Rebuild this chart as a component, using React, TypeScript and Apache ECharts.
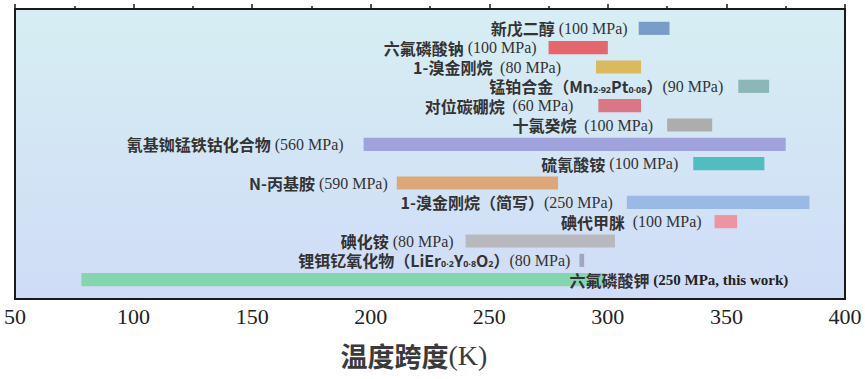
import React, { useEffect, useRef } from "react";
import * as echarts from "echarts";

// ---- data (top row first) ----
const materials = [
  "新戊二醇",
  "六氟磷酸钠",
  "1-溴金刚烷 ",
  "锰铂合金（Mn_{2·92}Pt_{0·08}）",
  "对位碳硼烷 ",
  "十氯癸烷 ",
  "氰基铷锰铁钴化合物",
  "硫氰酸铵",
  "N-丙基胺",
  "1-溴金刚烷（简写）",
  "碘代甲脒 ",
  "碘化铵",
  "锂铒钇氧化物（LiEr_{0·2}Y_{0·8}O_{2}）",
  "六氟磷酸钾",
];
const pressures = [
  "100 MPa", "100 MPa", "80 MPa", "90 MPa", "60 MPa", "100 MPa", "560 MPa",
  "100 MPa", "590 MPa", "250 MPa", "100 MPa", "80 MPa", "80 MPa", "250 MPa, this work",
];
const tStart = [313, 275, 295, 355, 296, 325, 197, 336, 211, 308, 345, 240, 288, 78];
const tEnd = [326, 300, 314, 368, 314, 344, 375, 366, 279, 385, 354.5, 303, 290, 299];
const xTicks = { min: 50, max: 400, interval: 50 };

// ---- styles ----
const barColors = [
  "#6e94c3", "#e9565d", "#d9b54f", "#82b2b2", "#dc6a78", "#a8a6a6", "#9a9ad9",
  "#44b8b9", "#dfa06a", "#93b5e2", "#ef8c97", "#b4b5b8", "#9ba0ba", "#7bd5aa",
];
const labelGaps = [11, 12, 35, 15, 25, 14, 20, 15, 9, 14, 13, 12, 9, 0];
const CN_FONT = "'Noto Sans CJK SC', 'Noto Sans', sans-serif";
const SUB_FONT = "'Noto Sans', 'DejaVu Sans', sans-serif";
const EN_FONT = "'Liberation Serif', 'DejaVu Serif', serif";

function buildLabel(i: number) {
  const name = materials[i];
  const cn = "{cn|" + name.replace(/_\{([^}]*)\}/g, "}{sub|$1}{cn|") + "}";
  const last = i === materials.length - 1;
  const enStyle = last ? "enb" : "en";
  const sep = name.endsWith("）") ? "" : `{${enStyle}| }`;
  return cn + sep + `{${enStyle}|(${pressures[i]})}`;
}

const LH = 16;
const rich = {
  cn: { fontFamily: CN_FONT, fontSize: 16, fontWeight: "bold", fill: "#333", lineHeight: LH },
  sub: { fontFamily: SUB_FONT, fontSize: 9, fontWeight: "bold", fill: "#333", lineHeight: LH, verticalAlign: "bottom" },
  en: { fontFamily: EN_FONT, fontSize: 16, fill: "#333", lineHeight: LH },
  enb: { fontFamily: EN_FONT, fontSize: 15, fontWeight: "bold", fill: "#222", lineHeight: LH },
};

export default function App() {
  const ref = useRef<HTMLDivElement>(null);
  useEffect(() => {
    document.body.style.margin = "0";
    const chart = echarts.init(ref.current!, undefined, { renderer: "svg" });
    const data = tStart.map((s, i) => [s, tEnd[i], i]);
    chart.setOption({
      animation: false,
      grid: {
        left: 15,
        right: 20,
        top: 9,
        bottom: 80,
        show: true,
        borderColor: "#1a1a1a",
        borderWidth: 2,
        backgroundColor: new echarts.graphic.LinearGradient(0, 0, 0, 1, [
          { offset: 0, color: "#d7eef3" },
          { offset: 1, color: "#cfdcf7" },
        ]),
      },
      xAxis: {
        type: "value",
        min: xTicks.min,
        max: xTicks.max,
        interval: xTicks.interval,
        splitLine: { show: false },
        axisLine: { show: true, lineStyle: { color: "#1a1a1a", width: 2 } },
        axisTick: { show: true, inside: true, length: 5, lineStyle: { color: "#1a1a1a", width: 1.5 } },
        minorTick: { show: true, splitNumber: 2, length: 3, lineStyle: { color: "#1a1a1a", width: 1.5 } },
        axisLabel: { fontFamily: EN_FONT, fontSize: 22, color: "#222", margin: 6 },
        name: "{a|温度跨度}{b|(K)}",
        nameLocation: "middle",
        nameGap: 42,
        nameTextStyle: {
          padding: [0, 32, 0, 0],
          rich: {
            a: { fontFamily: CN_FONT, fontSize: 27, fontWeight: "bold", color: "#3a3a3a" },
            b: { fontFamily: EN_FONT, fontSize: 28, color: "#3a3a3a" },
          },
        },
      },
      yAxis: {
        type: "value",
        min: 0,
        max: 15,
        inverse: true,
        show: false,
        splitLine: { show: false },
      },
      series: [
        {
          type: "custom",
          data,
          encode: { x: [0, 1] },
          renderItem: (params: any, api: any) => {
            const i = api.value(2);
            const p0 = api.coord([api.value(0), i + 1]);
            const p1 = api.coord([api.value(1), i + 1]);
            const h = api.size([0, 1])[1] * 0.68;
            const last = i === materials.length - 1;
            return {
              type: "group",
              children: [
                {
                  type: "rect",
                  shape: { x: p0[0], y: p0[1] - h / 2, width: p1[0] - p0[0], height: h },
                  style: { fill: barColors[i], opacity: 0.9 },
                },
                {
                  type: "text",
                  style: {
                    text: buildLabel(i),
                    x: last ? p1[0] - 36 : p0[0] - labelGaps[i],
                    y: p0[1],
                    align: last ? "left" : "right",
                    verticalAlign: "middle",
                    rich,
                  },
                },
              ],
            };
          },
        },
      ],
    });
    return () => chart.dispose();
  }, []);
  return <div ref={ref} style={{ width: 865, height: 379 }} />;
}
